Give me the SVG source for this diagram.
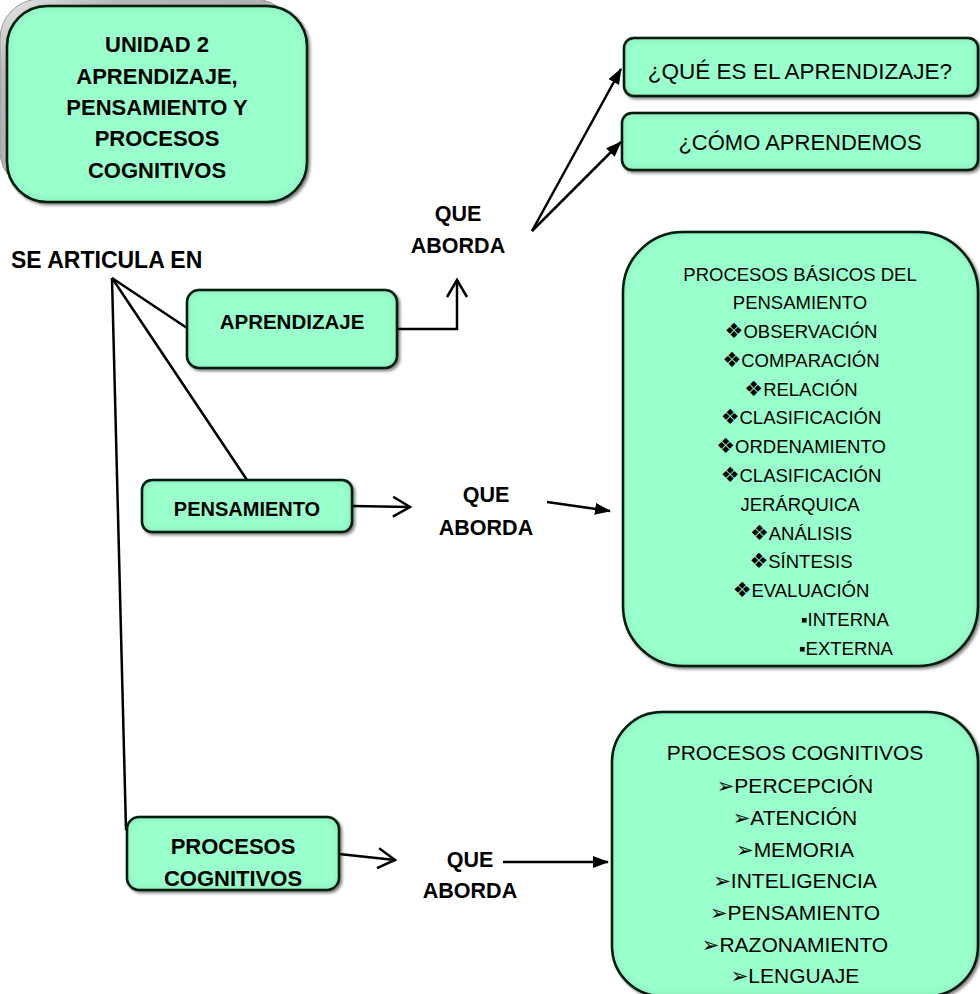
<svg xmlns="http://www.w3.org/2000/svg" width="980" height="994" viewBox="0 0 980 994">
  <defs>
    <style>
      .box { fill: #99ffcc; stroke: #000; stroke-width: 2.5; }
      .t { font-family: "Liberation Sans", "DejaVu Sans", sans-serif; fill: #000; }
      .b { font-weight: bold; }
      .c { text-anchor: middle; }
      .ln { fill: none; stroke: #000; stroke-width: 2.5; }
      .bul { font-size: 21px; }
    </style>
    <filter id="soft" x="-10%" y="-10%" width="120%" height="125%">
      <feGaussianBlur in="SourceAlpha" stdDeviation="1.5" result="blur"/>
      <feOffset in="blur" dx="1.5" dy="2" result="off"/>
      <feComponentTransfer in="off" result="shadow">
        <feFuncA type="linear" slope="0.5"/>
      </feComponentTransfer>
      <feFlood flood-color="#0a4a2a" flood-opacity="0.45" result="ink"/>
      <feComposite in="ink" in2="SourceAlpha" operator="out" result="inv"/>
      <feGaussianBlur in="inv" stdDeviation="4" result="invb"/>
      <feComposite in="invb" in2="SourceAlpha" operator="in" result="inner"/>
      <feMerge>
        <feMergeNode in="shadow"/>
        <feMergeNode in="SourceGraphic"/>
        <feMergeNode in="inner"/>
      </feMerge>
    </filter>
    <linearGradient id="grey" x1="0" y1="0" x2="1" y2="1">
      <stop offset="0" stop-color="#e8e8e8"/>
      <stop offset="0.2" stop-color="#b8b8b8"/>
      <stop offset="1" stop-color="#a0a0a0"/>
    </linearGradient>
    <marker id="tri" viewBox="0 0 16 12" refX="15" refY="6" markerWidth="16" markerHeight="12" markerUnits="userSpaceOnUse" orient="auto">
      <path d="M0,0 L16,6 L0,12 z" fill="#000"/>
    </marker>
    <marker id="chev" viewBox="0 0 22 24" refX="19" refY="12" markerWidth="22" markerHeight="24" markerUnits="userSpaceOnUse" orient="auto">
      <path d="M2,2 L19,12 L2,22" fill="none" stroke="#000" stroke-width="2.5"/>
    </marker>
  </defs>

  <!-- connectors -->
  <g id="connectors">
    <line class="ln" x1="112" y1="278" x2="187" y2="328"/>
    <line class="ln" x1="112" y1="278" x2="247" y2="480"/>
    <line class="ln" x1="112" y1="278" x2="126" y2="830"/>
    <polyline class="ln" points="397,329 457,329 457,280" marker-end="url(#chev)"/>
    <line class="ln" x1="532" y1="231" x2="621" y2="69" marker-end="url(#tri)"/>
    <line class="ln" x1="532" y1="231" x2="621" y2="142" marker-end="url(#tri)"/>
    <line class="ln" x1="352" y1="506" x2="410" y2="507" marker-end="url(#chev)"/>
    <line class="ln" x1="547" y1="502" x2="610" y2="511" marker-end="url(#tri)"/>
    <line class="ln" x1="339" y1="854" x2="395" y2="860" marker-end="url(#chev)"/>
    <line class="ln" x1="503" y1="862" x2="608" y2="862" marker-end="url(#tri)"/>
  </g>

  <!-- title unit -->
  <g id="unidad">
    <rect x="0" y="-1" width="294" height="192" rx="40" fill="url(#grey)" stroke="#999" stroke-width="1"/>
    <rect class="box" x="7" y="6" width="300" height="196" rx="40" filter="url(#soft)"/>
    <text class="t b c" font-size="22" x="157" y="52">UNIDAD 2</text>
    <text class="t b c" font-size="22" x="157" y="84">APRENDIZAJE,</text>
    <text class="t b c" font-size="22" x="157" y="115">PENSAMIENTO Y</text>
    <text class="t b c" font-size="22" x="157" y="146">PROCESOS</text>
    <text class="t b c" font-size="22" x="157" y="178">COGNITIVOS</text>
  </g>

  <g id="se-articula">
    <text class="t b" font-size="23" x="11" y="268">SE ARTICULA EN</text>
  </g>

  <g id="aprendizaje">
    <rect class="box" x="187" y="290" width="210" height="78" rx="12" filter="url(#soft)"/>
    <text class="t b c" font-size="20.5" x="292" y="329">APRENDIZAJE</text>
  </g>

  <g id="aborda-1">
    <text class="t b c" font-size="21.5" x="458" y="221">QUE</text>
    <text class="t b c" font-size="21.5" x="458" y="253">ABORDA</text>
  </g>

  <g id="que-es">
    <rect class="box" x="624" y="38" width="354" height="58" rx="10" filter="url(#soft)"/>
    <text class="t c" font-size="22.5" x="800" y="79">¿QUÉ ES EL APRENDIZAJE?</text>
  </g>

  <g id="como-aprendemos">
    <rect class="box" x="622" y="113" width="356" height="57" rx="10" filter="url(#soft)"/>
    <text class="t c" font-size="22" x="800" y="150">¿CÓMO APRENDEMOS</text>
  </g>

  <g id="pensamiento">
    <rect class="box" x="142" y="480" width="210" height="52" rx="10" filter="url(#soft)"/>
    <text class="t b c" font-size="20" x="247" y="516">PENSAMIENTO</text>
  </g>

  <g id="aborda-2">
    <text class="t b c" font-size="21.5" x="486" y="502">QUE</text>
    <text class="t b c" font-size="21.5" x="486" y="535">ABORDA</text>
  </g>

  <g id="procesos-basicos">
    <rect class="box" x="623" y="232" width="355" height="434" rx="60" filter="url(#soft)"/>
    <g class="t c" font-size="18.5">
      <text x="800" y="281">PROCESOS BÁSICOS DEL</text>
      <text x="800" y="309">PENSAMIENTO</text>
      <text x="801" y="338"><tspan class="bul">❖</tspan>OBSERVACIÓN</text>
      <text x="801" y="367"><tspan class="bul">❖</tspan>COMPARACIÓN</text>
      <text x="801" y="396"><tspan class="bul">❖</tspan>RELACIÓN</text>
      <text x="801" y="424"><tspan class="bul">❖</tspan>CLASIFICACIÓN</text>
      <text x="801" y="453"><tspan class="bul">❖</tspan>ORDENAMIENTO</text>
      <text x="801" y="482"><tspan class="bul">❖</tspan>CLASIFICACIÓN</text>
      <text x="800" y="511">JERÁRQUICA</text>
      <text x="801" y="540"><tspan class="bul">❖</tspan>ANÁLISIS</text>
      <text x="801" y="568"><tspan class="bul">❖</tspan>SÍNTESIS</text>
      <text x="801" y="597"><tspan class="bul">❖</tspan>EVALUACIÓN</text>
    </g>
    <text class="t" font-size="18.5" x="801" y="626">▪INTERNA</text>
    <text class="t" font-size="18.5" x="799" y="655">▪EXTERNA</text>
  </g>

  <g id="procesos-cognitivos">
    <rect class="box" x="127" y="817" width="212" height="73" rx="12" filter="url(#soft)"/>
    <text class="t b c" font-size="22" x="233" y="854">PROCESOS</text>
    <text class="t b c" font-size="22" x="233" y="886">COGNITIVOS</text>
  </g>

  <g id="aborda-3">
    <text class="t b c" font-size="21.5" x="470" y="867">QUE</text>
    <text class="t b c" font-size="21.5" x="470" y="898">ABORDA</text>
  </g>

  <g id="lista-cognitivos">
    <rect class="box" x="612" y="712" width="366" height="284" rx="50" filter="url(#soft)"/>
    <g class="t c" font-size="21">
      <text x="795" y="760">PROCESOS COGNITIVOS</text>
      <text x="795" y="793">➢PERCEPCIÓN</text>
      <text x="795" y="825">➢ATENCIÓN</text>
      <text x="795" y="857">➢MEMORIA</text>
      <text x="795" y="888">➢INTELIGENCIA</text>
      <text x="795" y="920">➢PENSAMIENTO</text>
      <text x="795" y="952">➢RAZONAMIENTO</text>
      <text x="795" y="983">➢LENGUAJE</text>
    </g>
  </g>
</svg>
